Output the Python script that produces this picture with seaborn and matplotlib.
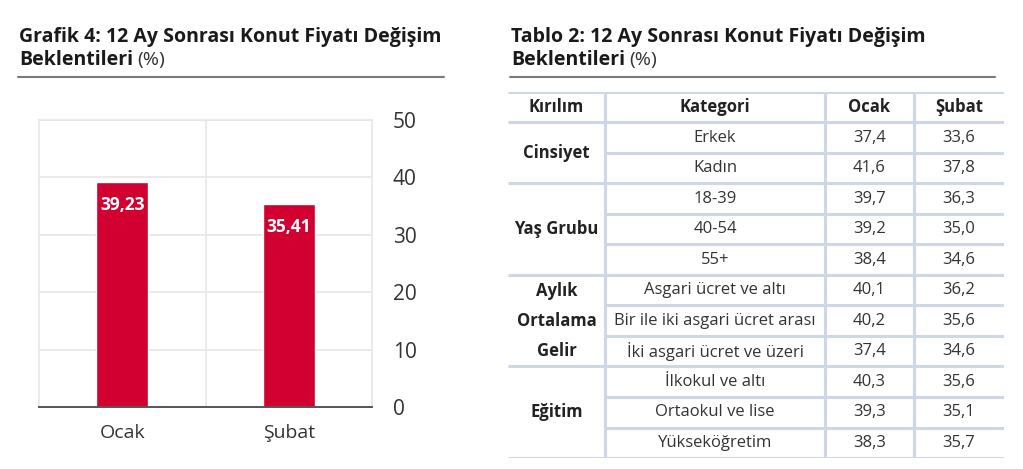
import matplotlib
matplotlib.use('Agg')
import matplotlib.pyplot as plt
import seaborn as sns
import pandas as pd

# Grafik 4 data
months = ["Ocak", "Şubat"]
expectations = [39.23, 35.41]
bar_labels = ["39,23", "35,41"]
y_ticks = [0, 10, 20, 30, 40, 50]

# Tablo 2 data
header = ["Kırılım", "Kategori", "Ocak", "Şubat"]
groups = ["Cinsiyet", "Yaş Grubu", "Aylık\nOrtalama\nGelir", "Eğitim"]
group_sizes = [2, 3, 3, 3]
categories = ["Erkek", "Kadın", "18-39", "40-54", "55+",
              "Asgari ücret ve altı", "Bir ile iki asgari ücret arası",
              "İki asgari ücret ve üzeri", "İlkokul ve altı",
              "Ortaokul ve lise", "Yükseköğretim"]
ocak_vals = ["37,4", "41,6", "39,7", "39,2", "38,4", "40,1", "40,2",
             "37,4", "40,3", "39,3", "38,3"]
subat_vals = ["33,6", "37,8", "36,3", "35,0", "34,6", "36,2", "35,6",
              "34,6", "35,6", "35,1", "35,7"]

sns.set_style("white")
plt.rcParams['font.family'] = ['Open Sans', 'DejaVu Sans']

W, H = 1023, 469
fig = plt.figure(figsize=(W / 100, H / 100), dpi=100)
fig.patch.set_facecolor("white")

RED = "#D10030"
TXT = "#222222"
LINE = "#CDD7E6"


def px_axes(x0, y0, x1, y1):
    # pixel box (top-left origin) -> figure axes
    return fig.add_axes([x0 / W, 1 - y1 / H, (x1 - x0) / W, (y1 - y0) / H])


# ---- titles ----
renderer = fig.canvas.get_renderer()


def title(x, line1, line2):
    fig.text(x / W, 1 - 37 / H, line1, fontsize=14, fontweight="bold",
             color="#1a1a1a", va="center")
    t = fig.text(x / W, 1 - 60 / H, line2, fontsize=14, fontweight="bold",
                 color="#1a1a1a", va="center")
    bb = t.get_window_extent(renderer)
    fig.text((bb.x1 + 4) / W, 1 - 60 / H, "(%)", fontsize=14,
             color="#333333", va="center")


title(19, "Grafik 4: 12 Ay Sonrası Konut Fiyatı Değişim", "Beklentileri")
title(511, "Tablo 2: 12 Ay Sonrası Konut Fiyatı Değişim", "Beklentileri")
fig.add_artist(plt.Line2D([18 / W, 444 / W], [1 - 77 / H, 1 - 77 / H],
                          color="#7a7a7a", lw=1.5))
fig.add_artist(plt.Line2D([510 / W, 995 / W], [1 - 77 / H, 1 - 77 / H],
                          color="#7a7a7a", lw=1.5))

# ---- bar chart ----
ax = px_axes(39, 120, 372, 407)
df = pd.DataFrame({"month": months, "value": expectations})
sns.barplot(data=df, x="month", y="value", color=RED, width=0.31,
            saturation=1, ax=ax)
ax.set_ylim(0, 50)
ax.set_xlim(-0.5, 1.5)
ax.set_yticks(y_ticks)
ax.yaxis.tick_right()
ax.tick_params(axis="y", length=0, pad=15, labelsize=15, labelcolor="#333333")
ax.tick_params(axis="x", length=0, pad=12, labelsize=14, labelcolor="#333333")
ax.set_xticks([-0.5, 0.5, 1.5], minor=True)
ax.tick_params(axis="x", which="minor", length=5, width=1.2, color="#555555",
               direction="out")
ax.set_xlabel("")
ax.set_ylabel("")
ax.grid(axis="y", color="#e6e6e6", lw=1.2)
ax.set_axisbelow(True)
ax.axvline(0.5, color="#e6e6e6", lw=1.2, zorder=0)
for side in ["left", "right", "top"]:
    ax.spines[side].set_color("#e6e6e6")
    ax.spines[side].set_linewidth(1.2)
ax.spines["bottom"].set_color("#555555")
ax.spines["bottom"].set_linewidth(1.4)
for i, (v, lab) in enumerate(zip(expectations, bar_labels)):
    ax.text(i, v - 2.4, lab, ha="center", va="top", color="white",
            fontsize=12.5, fontweight="bold")

# ---- table ----
tx = px_axes(508, 92, 1004, 458)
n_rows = len(categories) + 1
tx.set_xlim(508, 1004)
tx.set_ylim(92 + n_rows * 30.5, 92)
tx.axis("off")
col_edges = [508, 605, 825, 914, 1004]
row_h = 30.5
top = 92
FS = 12

# horizontal lines
for r in range(n_rows + 1):
    y = top + r * row_h
    tx.plot([col_edges[0], col_edges[-1]], [y, y], color=LINE, lw=2.2,
            solid_capstyle="butt")
# vertical lines (inner)
for xe in col_edges[1:-1]:
    tx.plot([xe, xe], [top, top + n_rows * row_h], color=LINE, lw=2.2,
            solid_capstyle="butt")

col_centers = [(col_edges[i] + col_edges[i + 1]) / 2 for i in range(4)]
for c, h in enumerate(header):
    tx.text(col_centers[c], top + row_h / 2, h, ha="center", va="center",
            fontsize=FS, fontweight="bold", color=TXT)

for r, (cat, o, s) in enumerate(zip(categories, ocak_vals, subat_vals)):
    yc = top + (r + 1.5) * row_h
    tx.text(col_centers[1], yc, cat, ha="center", va="center", fontsize=FS,
            color="#333333")
    tx.text(col_centers[2], yc, o, ha="center", va="center", fontsize=FS,
            color="#333333")
    tx.text(col_centers[3], yc, s, ha="center", va="center", fontsize=FS,
            color="#333333")

# white out horizontal lines inside the merged group cells
start = 1
for g, n in zip(groups, group_sizes):
    y0 = top + start * row_h
    for k in range(1, n):
        yk = y0 + k * row_h
        tx.plot([col_edges[0], col_edges[1] - 1.5], [yk, yk], color="white",
                lw=3, solid_capstyle="butt")
    tx.text(col_centers[0], y0 + n * row_h / 2, g, ha="center", va="center",
            fontsize=FS, fontweight="bold", color=TXT, linespacing=1.85)
    start += n

fig.savefig("out.png", dpi=100)
